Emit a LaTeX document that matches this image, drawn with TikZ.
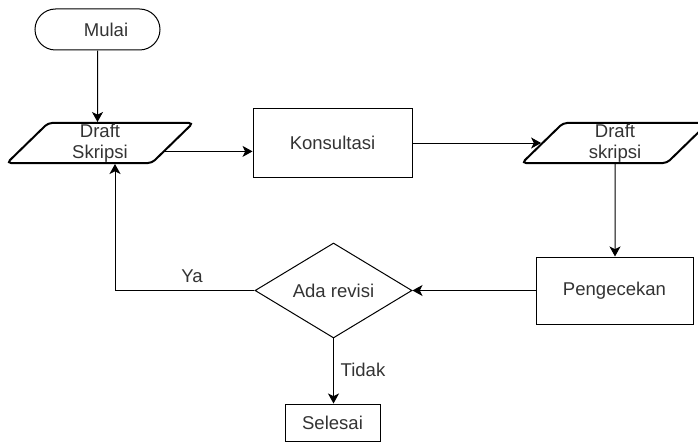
\documentclass[tikz,border=0pt]{standalone}
\usepackage{fontspec}
\setmainfont{Liberation Sans}
\usetikzlibrary{shapes.geometric,shapes.misc,arrows.meta,calc}
\definecolor{txtgray}{RGB}{51,51,51}

\tikzset{every picture/.style={line width=0.75pt}}
\tikzset{
  flowtext/.style={text=txtgray,font=\fontsize{13.9}{15.8}\selectfont,align=center},
  terminal/.style={draw,rounded rectangle,minimum width=93.75pt,minimum height=30.75pt,inner sep=0pt,flowtext},
  iobox/.style={draw,line width=1.5pt,trapezium,trapezium stretches body,trapezium left angle=43,trapezium right angle=137,
    rounded corners=3pt,minimum width=139.5pt,minimum height=30pt,inner sep=0pt,flowtext},
  procbox/.style={draw,rectangle,inner sep=0pt,flowtext},
  decbox/.style={draw,diamond,minimum width=117.75pt,minimum height=69.75pt,inner sep=0pt,flowtext},
  lbl/.style={inner sep=0.75pt,flowtext},
  arr/.style={-{Stealth[length=7.5pt,width=8.25pt,inset=2pt]}}
}

\begin{document}
\begin{tikzpicture}[x=0.75pt,y=0.75pt,yscale=-1,xscale=1]
\useasboundingbox (0,0) rectangle (698,442);
\clip (0,0) rectangle (698,442);

%Shape: Terminator
\node [terminal] (mulai) at (97.5,29.5) {\hspace*{12.75pt}Mulai};
%Shape: Data
\node [iobox] (ds1) at (100,143) {Draft\\Skripsi};
%Shape: Rectangle
\node [procbox,minimum width=119.25pt,minimum height=51pt] (kons) at (332.5,143) {Konsultasi};
%Shape: Data
\node [iobox] (ds2) at (615,143) {Draft\\skripsi};
%Shape: Rectangle
\node [procbox,minimum width=117.75pt,minimum height=50.25pt] (cek) at (614.5,290.5) {Pengecekan};
%Shape: Decision
\node [decbox] (dec) at (333.5,290.5) {Ada revisi};
%Shape: Rectangle
\node [procbox,minimum width=71.25pt,minimum height=27.75pt] (sel) at (332.5,422.5) {Selesai};

%Straight Lines
\draw [arr] (mulai) -- (mulai |- ds1.north);
%Straight Lines
\draw [arr] ($(ds1.bottom right corner)!0.3!(ds1.top right corner)$) coordinate (dsout) -- (dsout -| kons.west);
%Straight Lines
\draw [arr] (kons.east) -- ($(ds2.bottom left corner)!0.5!(ds2.top left corner)$);
%Straight Lines
\draw [arr] (ds2) -- (ds2 |- cek.north);
%Straight Lines
\draw [arr] (cek) -- (dec);
%Straight Lines
\draw [arr] (dec) -- (dec |- sel.north);
%Straight Lines
\draw [arr] (dec) -| ($(ds1.center |- ds1.south)+(15,0)$);

% Text Node
\node [lbl] (ya) at (192,276) {Ya};
% Text Node
\node [lbl] (tidak) at (363,370) {Tidak};

\end{tikzpicture}
\end{document}
